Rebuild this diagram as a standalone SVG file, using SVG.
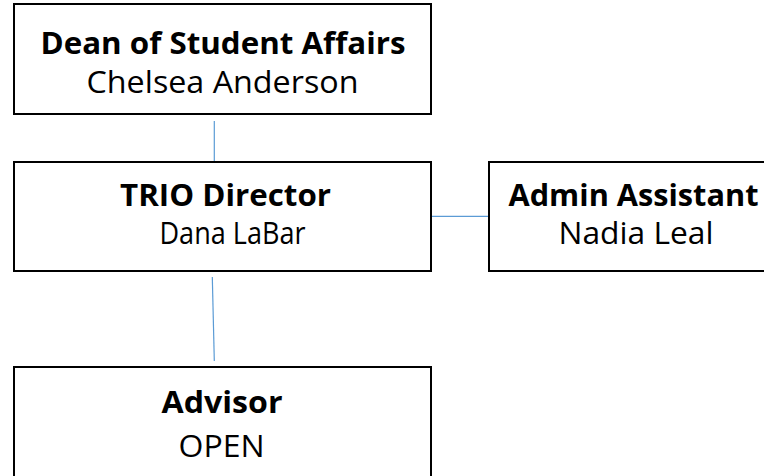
<svg xmlns="http://www.w3.org/2000/svg" width="764" height="476" viewBox="0 0 764 476">
<style>
.box{fill:#ffffff;stroke:#000000;stroke-width:2}
.conn{stroke:#5b9bd5;stroke-width:1.2;fill:none}
.t{font-family:"Open Sans","Noto Sans","Liberation Sans",sans-serif;font-size:31px;fill:#000000}
.b{font-weight:bold}
</style>
<rect width="764" height="476" fill="#ffffff"/>
<g id="connectors">
<line class="conn" x1="214.3" y1="121" x2="214.3" y2="163"/>
<line class="conn" x1="431" y1="216.3" x2="489" y2="216.3"/>
<line class="conn" x1="212.3" y1="277" x2="214.3" y2="361"/>
</g>
<g id="dean">
<rect class="box" x="14" y="4" width="417" height="110"/>
<text class="t b" x="40.5" y="54" textLength="365" lengthAdjust="spacingAndGlyphs">Dean of Student Affairs</text>
<text class="t" x="86.5" y="93" textLength="272" lengthAdjust="spacingAndGlyphs">Chelsea Anderson</text>
</g>
<g id="trio-director">
<rect class="box" x="14" y="162" width="417" height="109"/>
<text class="t b" x="120" y="206" textLength="211" lengthAdjust="spacingAndGlyphs">TRIO Director</text>
<text class="t" x="159.5" y="244" textLength="146" lengthAdjust="spacingAndGlyphs">Dana LaBar</text>
</g>
<g id="admin-assistant">
<rect class="box" x="489" y="162" width="290" height="109"/>
<text class="t b" x="508.5" y="206" textLength="250" lengthAdjust="spacingAndGlyphs">Admin Assistant</text>
<text class="t" x="558.5" y="244" textLength="155" lengthAdjust="spacingAndGlyphs">Nadia Leal</text>
</g>
<g id="advisor">
<rect class="box" x="14" y="367" width="417" height="130"/>
<text class="t b" x="161.5" y="413" textLength="121" lengthAdjust="spacingAndGlyphs">Advisor</text>
<text class="t" x="178.5" y="457" textLength="86" lengthAdjust="spacingAndGlyphs">OPEN</text>
</g>
</svg>
